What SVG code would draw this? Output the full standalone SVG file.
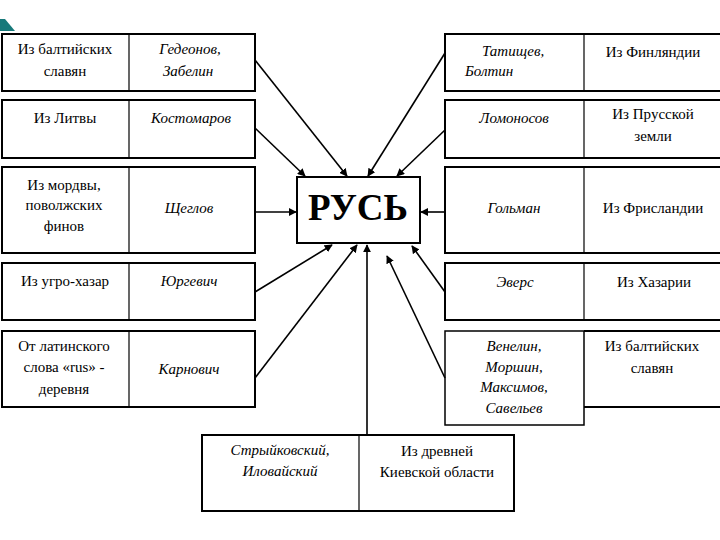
<svg xmlns="http://www.w3.org/2000/svg" width="720" height="540" viewBox="0 0 720 540">
<defs>
<marker id="ah" viewBox="0 0 10 10" refX="9" refY="5" markerWidth="5" markerHeight="5" orient="auto" markerUnits="strokeWidth">
<path d="M0,0 L10,5 L0,10 Z" fill="#000"/>
</marker>
<style>
.box{fill:#fff;stroke:#000;stroke-width:2}
.div{stroke:#000;stroke-width:1.2}
.c{stroke:#000;stroke-width:1.6;fill:none;marker-end:url(#ah)}
</style>
</defs>
<rect width="720" height="540" fill="#fff"/>
<polygon points="0,19 5,19 15,31 0,31" fill="#17797a"/>
<g id="center">
<rect class="box" x="297" y="177" width="123" height="66"/>
<text x="358" y="220" font-family="Liberation Serif, serif" font-weight="bold" font-size="37" text-anchor="middle">РУСЬ</text>
</g>
<g font-family="Liberation Serif, serif" font-size="15" text-anchor="middle">
<g id="left1">
<rect class="box" x="2" y="34" width="253" height="57"/>
<line class="div" x1="129" y1="34" x2="129" y2="91"/>
<text x="65" y="54">Из балтийских</text>
<text x="65" y="76">славян</text>
<text font-style="italic" x="190" y="54">Гедеонов,</text>
<text font-style="italic" x="188" y="76">Забелин</text>
</g>
<g id="left2">
<rect class="box" x="2" y="100" width="253" height="58"/>
<line class="div" x1="129" y1="100" x2="129" y2="158"/>
<text x="65" y="123">Из Литвы</text>
<text font-style="italic" x="191" y="123">Костомаров</text>
</g>
<g id="left3">
<rect class="box" x="2" y="167" width="253" height="86"/>
<line class="div" x1="129" y1="167" x2="129" y2="253"/>
<text x="64" y="190">Из мордвы,</text>
<text x="64" y="210">поволжских</text>
<text x="64" y="231">финов</text>
<text font-style="italic" x="189" y="213">Щеглов</text>
</g>
<g id="left4">
<rect class="box" x="2" y="263" width="253" height="57"/>
<line class="div" x1="129" y1="263" x2="129" y2="320"/>
<text x="65" y="286">Из угро-хазар</text>
<text font-style="italic" x="189" y="286">Юргевич</text>
</g>
<g id="left5">
<rect class="box" x="2" y="331" width="253" height="76"/>
<line class="div" x1="129" y1="331" x2="129" y2="407"/>
<text x="64" y="351">От латинского</text>
<text x="64" y="372">слова «rus» -</text>
<text x="64" y="394">деревня</text>
<text font-style="italic" x="189" y="374">Карнович</text>
</g>

<g id="right1">
<rect class="box" x="445" y="34" width="280" height="57"/>
<line class="div" x1="584" y1="34" x2="584" y2="91"/>
<text font-style="italic" text-anchor="start" x="482" y="56">Татищев,</text>
<text font-style="italic" text-anchor="start" x="465" y="76">Болтин</text>
<text x="653" y="57">Из Финляндии</text>
</g>
<g id="right2">
<rect class="box" x="445" y="100" width="280" height="58"/>
<line class="div" x1="584" y1="100" x2="584" y2="158"/>
<text font-style="italic" x="514" y="123">Ломоносов</text>
<text x="653" y="119">Из Прусской</text>
<text x="653" y="141">земли</text>
</g>
<g id="right3">
<rect class="box" x="445" y="167" width="280" height="86"/>
<line class="div" x1="584" y1="167" x2="584" y2="253"/>
<text font-style="italic" x="514" y="213">Гольман</text>
<text x="653" y="213">Из Фрисландии</text>
</g>
<g id="right4">
<rect class="box" x="445" y="263" width="280" height="57"/>
<line class="div" x1="584" y1="263" x2="584" y2="320"/>
<text font-style="italic" x="515" y="287">Эверс</text>
<text x="654" y="287">Из Хазарии</text>
</g>
<g id="right5">
<rect x="445" y="331" width="139" height="94" fill="#fff" stroke="#000" stroke-width="1.5"/>
<path d="M584,331 H725 M584,407 H725" stroke="#000" stroke-width="2" fill="none"/>
<text font-style="italic" x="514" y="351">Венелин,</text>
<text font-style="italic" x="514" y="372">Моршин,</text>
<text font-style="italic" x="514" y="392">Максимов,</text>
<text font-style="italic" x="514" y="413">Савельев</text>
<text x="652" y="351">Из балтийских</text>
<text x="652" y="373">славян</text>
</g>

<g id="bottom">
<rect class="box" x="202" y="435" width="312" height="76"/>
<line class="div" x1="359" y1="435" x2="359" y2="511"/>
<text font-style="italic" x="280" y="455">Стрыйковский,</text>
<text font-style="italic" x="280" y="476">Иловайский</text>
<text x="437" y="456">Из древней</text>
<text x="437" y="477">Киевской области</text>
</g>
</g>
<g id="connectors">
<line class="c" x1="255" y1="60" x2="347" y2="176" stroke-width="2"/>
<line class="c" x1="255" y1="128" x2="305" y2="176"/>
<line class="c" x1="445" y1="53" x2="368" y2="176"/>
<line class="c" x1="445" y1="130" x2="397" y2="176"/>
<line class="c" x1="255" y1="212" x2="296" y2="212" stroke-width="2"/>
<line class="c" x1="445" y1="212" x2="421" y2="212" stroke-width="2"/>
<line class="c" x1="255" y1="292" x2="332" y2="245" stroke-width="2"/>
<line class="c" x1="255" y1="378" x2="357" y2="245" stroke-width="2"/>
<line class="c" x1="367" y1="435" x2="367" y2="245" stroke-width="1.2"/>
<line class="c" x1="445" y1="292" x2="412" y2="246"/>
<line class="c" x1="445" y1="378" x2="387" y2="256"/>
</g>
</svg>
